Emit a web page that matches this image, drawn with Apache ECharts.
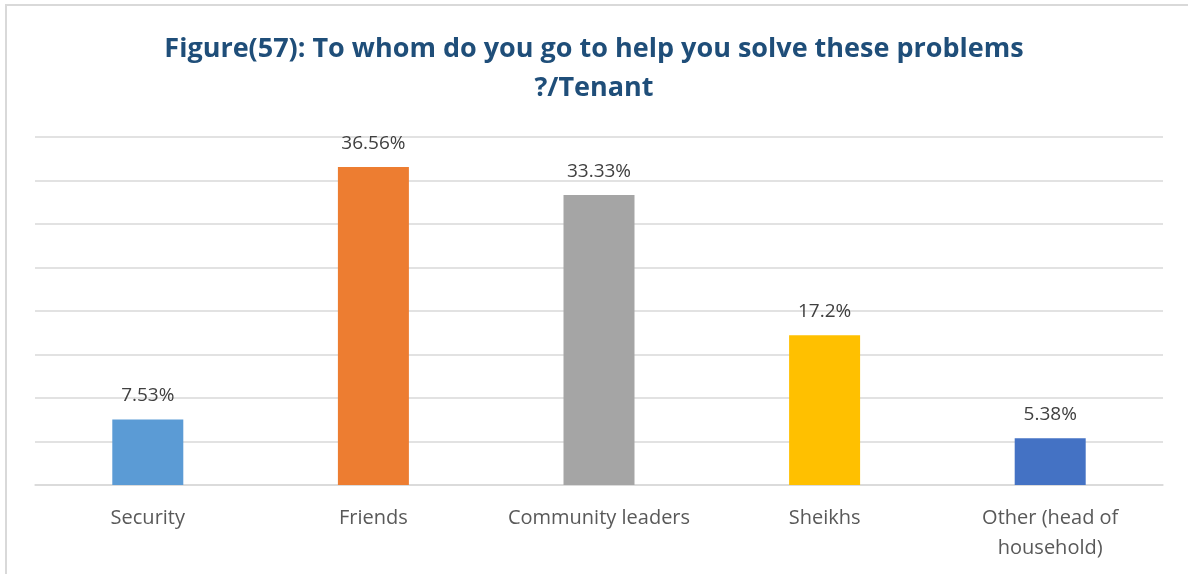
<!DOCTYPE html>
<html>
<head>
<meta charset="utf-8">
<script src="https://cdn.jsdelivr.net/npm/echarts@6/dist/echarts.min.js"></script>
<style>
  html, body { margin: 0; padding: 0; background: #fff; }
  #chart { width: 1188px; height: 574px; }
</style>
</head>
<body>
<div id="chart"></div>
<script>
const categories = ['Security', 'Friends', 'Community leaders', 'Sheikhs', 'Other (head of household)'];
const values = [7.53, 36.56, 33.33, 17.2, 5.38];
const barColors = ['#5B9BD5', '#ED7D31', '#A5A5A5', '#FFC000', '#4472C4'];
const titleLines = ['Figure(57): To whom do you go to help you solve these problems', '?/Tenant'];

const chart = echarts.init(document.getElementById('chart'));
chart.setOption({
  backgroundColor: '#fff',
  animation: false,
  graphic: [{
    type: 'rect',
    shape: { x: 6, y: 5, width: 1200, height: 600 },
    style: { fill: 'none', stroke: '#d9d9d9', lineWidth: 2 },
    silent: true
  }],
  title: {
    text: titleLines.join('\n'),
    left: 'center',
    top: 25,
    textStyle: {
      fontFamily: 'Open Sans',
      fontWeight: 'bold',
      fontSize: 27,
      lineHeight: 39,
      color: '#1F4E79'
    }
  },
  grid: { left: 35, right: 25, top: 137, bottom: 89, containLabel: false },
  xAxis: {
    type: 'category',
    data: categories,
    axisLine: { show: true, lineStyle: { color: '#d9d9d9', width: 1.5 } },
    axisTick: { show: false },
    axisLabel: {
      interval: 0,
      margin: 18,
      fontFamily: 'Open Sans',
      fontSize: 20,
      lineHeight: 30,
      color: '#595959',
      formatter: v => v === 'Other (head of household)' ? 'Other (head of\nhousehold)' : v
    }
  },
  yAxis: {
    type: 'value',
    min: 0,
    max: 40,
    interval: 5,
    axisLine: { show: false },
    axisTick: { show: false },
    axisLabel: { show: false },
    splitLine: { lineStyle: { color: '#d9d9d9', width: 1.5 } }
  },
  series: [{
    type: 'bar',
    data: values.map((v, i) => ({ value: v, itemStyle: { color: barColors[i] } })),
    barWidth: 71,
    label: {
      show: true,
      position: 'top',
      distance: 14,
      fontFamily: 'Open Sans',
      fontSize: 19,
      color: '#404040',
      formatter: p => p.value + '%'
    }
  }]
});
</script>
</body>
</html>
